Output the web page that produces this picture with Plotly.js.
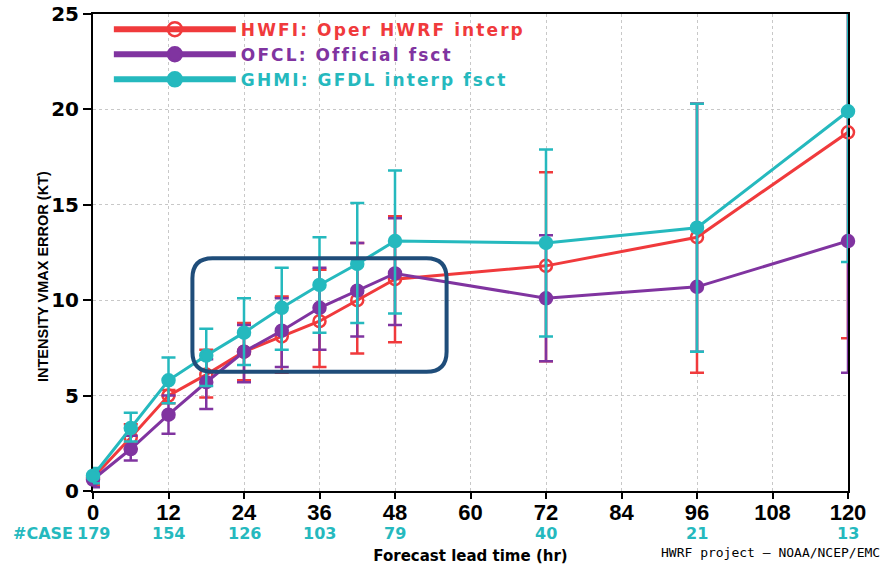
<!DOCTYPE html>
<html>
<head>
<meta charset="utf-8">
<script src="https://cdn.plot.ly/plotly-3.0.1.min.js"></script>
<style>html,body{margin:0;padding:0;background:#fff;}#chart{width:888px;height:565px;}</style>
</head>
<body>
<div id="chart"></div>
<script>
// ---- data ----
const hours = [0, 6, 12, 18, 24, 30, 36, 42, 48, 72, 96, 120];

const hwfi   = [0.7, 2.8, 5.0, 6.1, 7.3, 8.1, 8.9, 10.0, 11.1, 11.8, 13.3, 18.8];
const hwfiHi = [1.1, 3.5, 5.3, 7.4, 8.8, 10.2, 11.6, 13.0, 14.4, 16.7, 20.3, 26.5];
const hwfiLo = [0.3, 2.2, 4.6, 4.9, 5.8, 6.2, 6.5, 7.2, 7.8, 6.8, 6.2, 8.0];

const ofcl   = [0.6, 2.2, 4.0, 5.7, 7.3, 8.4, 9.6, 10.5, 11.4, 10.1, 10.7, 13.1];
const ofclHi = [1.0, 2.9, 5.0, 6.9, 8.7, 10.1, 11.7, 13.0, 14.3, 13.4, 20.3, 26.5];
const ofclLo = [0.2, 1.6, 3.0, 4.3, 5.7, 6.5, 7.4, 8.1, 8.7, 6.8, 7.3, 6.2];

const ghmi   = [0.8, 3.3, 5.8, 7.1, 8.3, 9.6, 10.8, 11.9, 13.1, 13.0, 13.8, 19.9];
const ghmiHi = [1.2, 4.1, 7.0, 8.5, 10.1, 11.7, 13.3, 15.1, 16.8, 17.9, 20.3, 27.0];
const ghmiLo = [0.4, 2.6, 4.6, 5.5, 6.6, 7.4, 8.3, 8.8, 9.3, 8.1, 7.3, 12.0];

const caseHours = [0, 12, 24, 36, 48, 72, 96, 120];
const caseCounts = [179, 154, 126, 103, 79, 40, 21, 13];

const xTicks = [0, 12, 24, 36, 48, 60, 72, 84, 96, 108, 120];
const yTicks = [0, 5, 10, 15, 20, 25];

const names = ['HWFI: Oper HWRF interp', 'OFCL: Official fsct', 'GHMI: GFDL interp fsct'];

// highlight box (data units)
const boxX = [15.8, 56.2];
const boxY = [6.25, 12.2];

// ---- styles ----
const RED = '#f03a3c', PURPLE = '#8034a0', CYAN = '#25b9be', BOX = '#1f4d7a';

function mkTrace(y, hi, lo, color, symbol) {
  return {
    x: hours, y: y, type: 'scatter', mode: 'lines+markers', showlegend: false,
    line: {color: color, width: 3},
    marker: {color: color, size: 12, symbol: symbol, line: {color: color, width: 2.5}},
    error_y: {
      type: 'data', symmetric: false,
      array: hi.map((v, i) => +(v - y[i]).toFixed(3)),
      arrayminus: lo.map((v, i) => +(y[i] - v).toFixed(3)),
      color: color, thickness: 2.5, width: 7
    },
    cliponaxis: false
  };
}
// legend entries (thicker key lines as in the reference)
function mkKey(name, color, symbol) {
  return {
    x: [null], y: [null], type: 'scatter', mode: 'lines+markers', showlegend: true,
    name: '<span style="color:' + color + ';letter-spacing:2.1px">' + name + '</span>',
    line: {color: color, width: 6},
    marker: {color: color, size: 14, symbol: symbol, line: {color: color, width: 2.5}}
  };
}

const traces = [
  mkTrace(hwfi, hwfiHi, hwfiLo, RED, 'circle-open'),
  mkTrace(ofcl, ofclHi, ofclLo, PURPLE, 'circle'),
  mkTrace(ghmi, ghmiHi, ghmiLo, CYAN, 'circle'),
  mkKey(names[0], RED, 'circle-open'),
  mkKey(names[1], PURPLE, 'circle'),
  mkKey(names[2], CYAN, 'circle')
];

// rounded rectangle path in data coordinates
const rx = 3.2, ry = 1.05;
const [x0, x1] = boxX, [y0, y1] = boxY;
const boxPath = `M${x0+rx},${y1} L${x1-rx},${y1} Q${x1},${y1} ${x1},${y1-ry} L${x1},${y0+ry} Q${x1},${y0} ${x1-rx},${y0} L${x0+rx},${y0} Q${x0},${y0} ${x0},${y0+ry} L${x0},${y1-ry} Q${x0},${y1} ${x0+rx},${y1} Z`;

const annotations = caseHours.map((h, i) => ({
  x: h, xref: 'x', y: -0.09, yref: 'paper', text: String(caseCounts[i]),
  showarrow: false, xanchor: 'center', yanchor: 'middle',
  font: {family: 'DejaVu Sans', size: 16, color: CYAN, weight: 'bold'}
}));
annotations.push({
  x: 0, xref: 'x', y: -0.09, yref: 'paper', text: '#CASE', xshift: -18,
  showarrow: false, xanchor: 'right', yanchor: 'middle',
  font: {family: 'DejaVu Sans', size: 16, color: CYAN, weight: 'bold'}
});
annotations.push({
  x: 1.045, xref: 'paper', y: -0.128, yref: 'paper', text: 'HWRF project \u2013 NOAA/NCEP/EMC',
  showarrow: false, xanchor: 'right', yanchor: 'middle',
  font: {family: 'DejaVu Sans Mono', size: 13, color: '#000'}
});
annotations.push({
  x: -0.066, xref: 'paper', y: 0.449, yref: 'paper', text: 'INTENSITY VMAX ERROR (KT)',
  showarrow: false, textangle: -90, xanchor: 'center', yanchor: 'middle',
  font: {family: 'Liberation Sans', size: 14.5, color: '#000', weight: 'bold'}
});

const layout = {
  width: 888, height: 565,
  margin: {l: 93, r: 40, t: 14, b: 74},
  paper_bgcolor: '#fff', plot_bgcolor: '#fff',
  showlegend: true,
  legend: {
    x: 0.021, y: 1.005, xanchor: 'left', yanchor: 'top',
    bgcolor: 'rgba(0,0,0,0)', borderwidth: 0,
    font: {family: 'DejaVu Sans', size: 17, weight: 'bold'},
    itemwidth: 122, tracegroupgap: 0
  },
  xaxis: {
    range: [0, 120], tickvals: xTicks, ticktext: xTicks.map(String),
    showline: true, linecolor: '#000', linewidth: 2, mirror: true,
    ticks: 'outside', ticklen: 6, tickwidth: 2, tickcolor: '#000',
    ticklabelstandoff: -5,
    tickfont: {family: 'Liberation Sans', size: 22, color: '#000', weight: 'bold'},
    showgrid: true, gridcolor: '#c8c8c8', gridwidth: 1, griddash: 'dot',
    zeroline: false, layer: 'below traces',
    title: {text: 'Forecast lead time (hr)', standoff: 30,
            font: {family: 'DejaVu Sans', size: 15, color: '#000', weight: 'bold'}}
  },
  yaxis: {
    range: [0, 25], tickvals: yTicks, ticktext: yTicks.map(String),
    showline: true, linecolor: '#000', linewidth: 2, mirror: true,
    ticks: 'outside', ticklen: 8, tickwidth: 2, tickcolor: '#000',
    tickfont: {family: 'DejaVu Sans', size: 20, color: '#000', weight: 'bold'},
    showgrid: true, gridcolor: '#c8c8c8', gridwidth: 1, griddash: 'dot',
    zeroline: false, layer: 'below traces'
  },
  shapes: [{
    type: 'path', xref: 'x', yref: 'y', path: boxPath,
    line: {color: BOX, width: 4}, fillcolor: 'rgba(0,0,0,0)', layer: 'above'
  }],
  annotations: annotations
};

Plotly.newPlot('chart', traces, layout, {displayModeBar: false, staticPlot: true});
</script>
</body>
</html>
